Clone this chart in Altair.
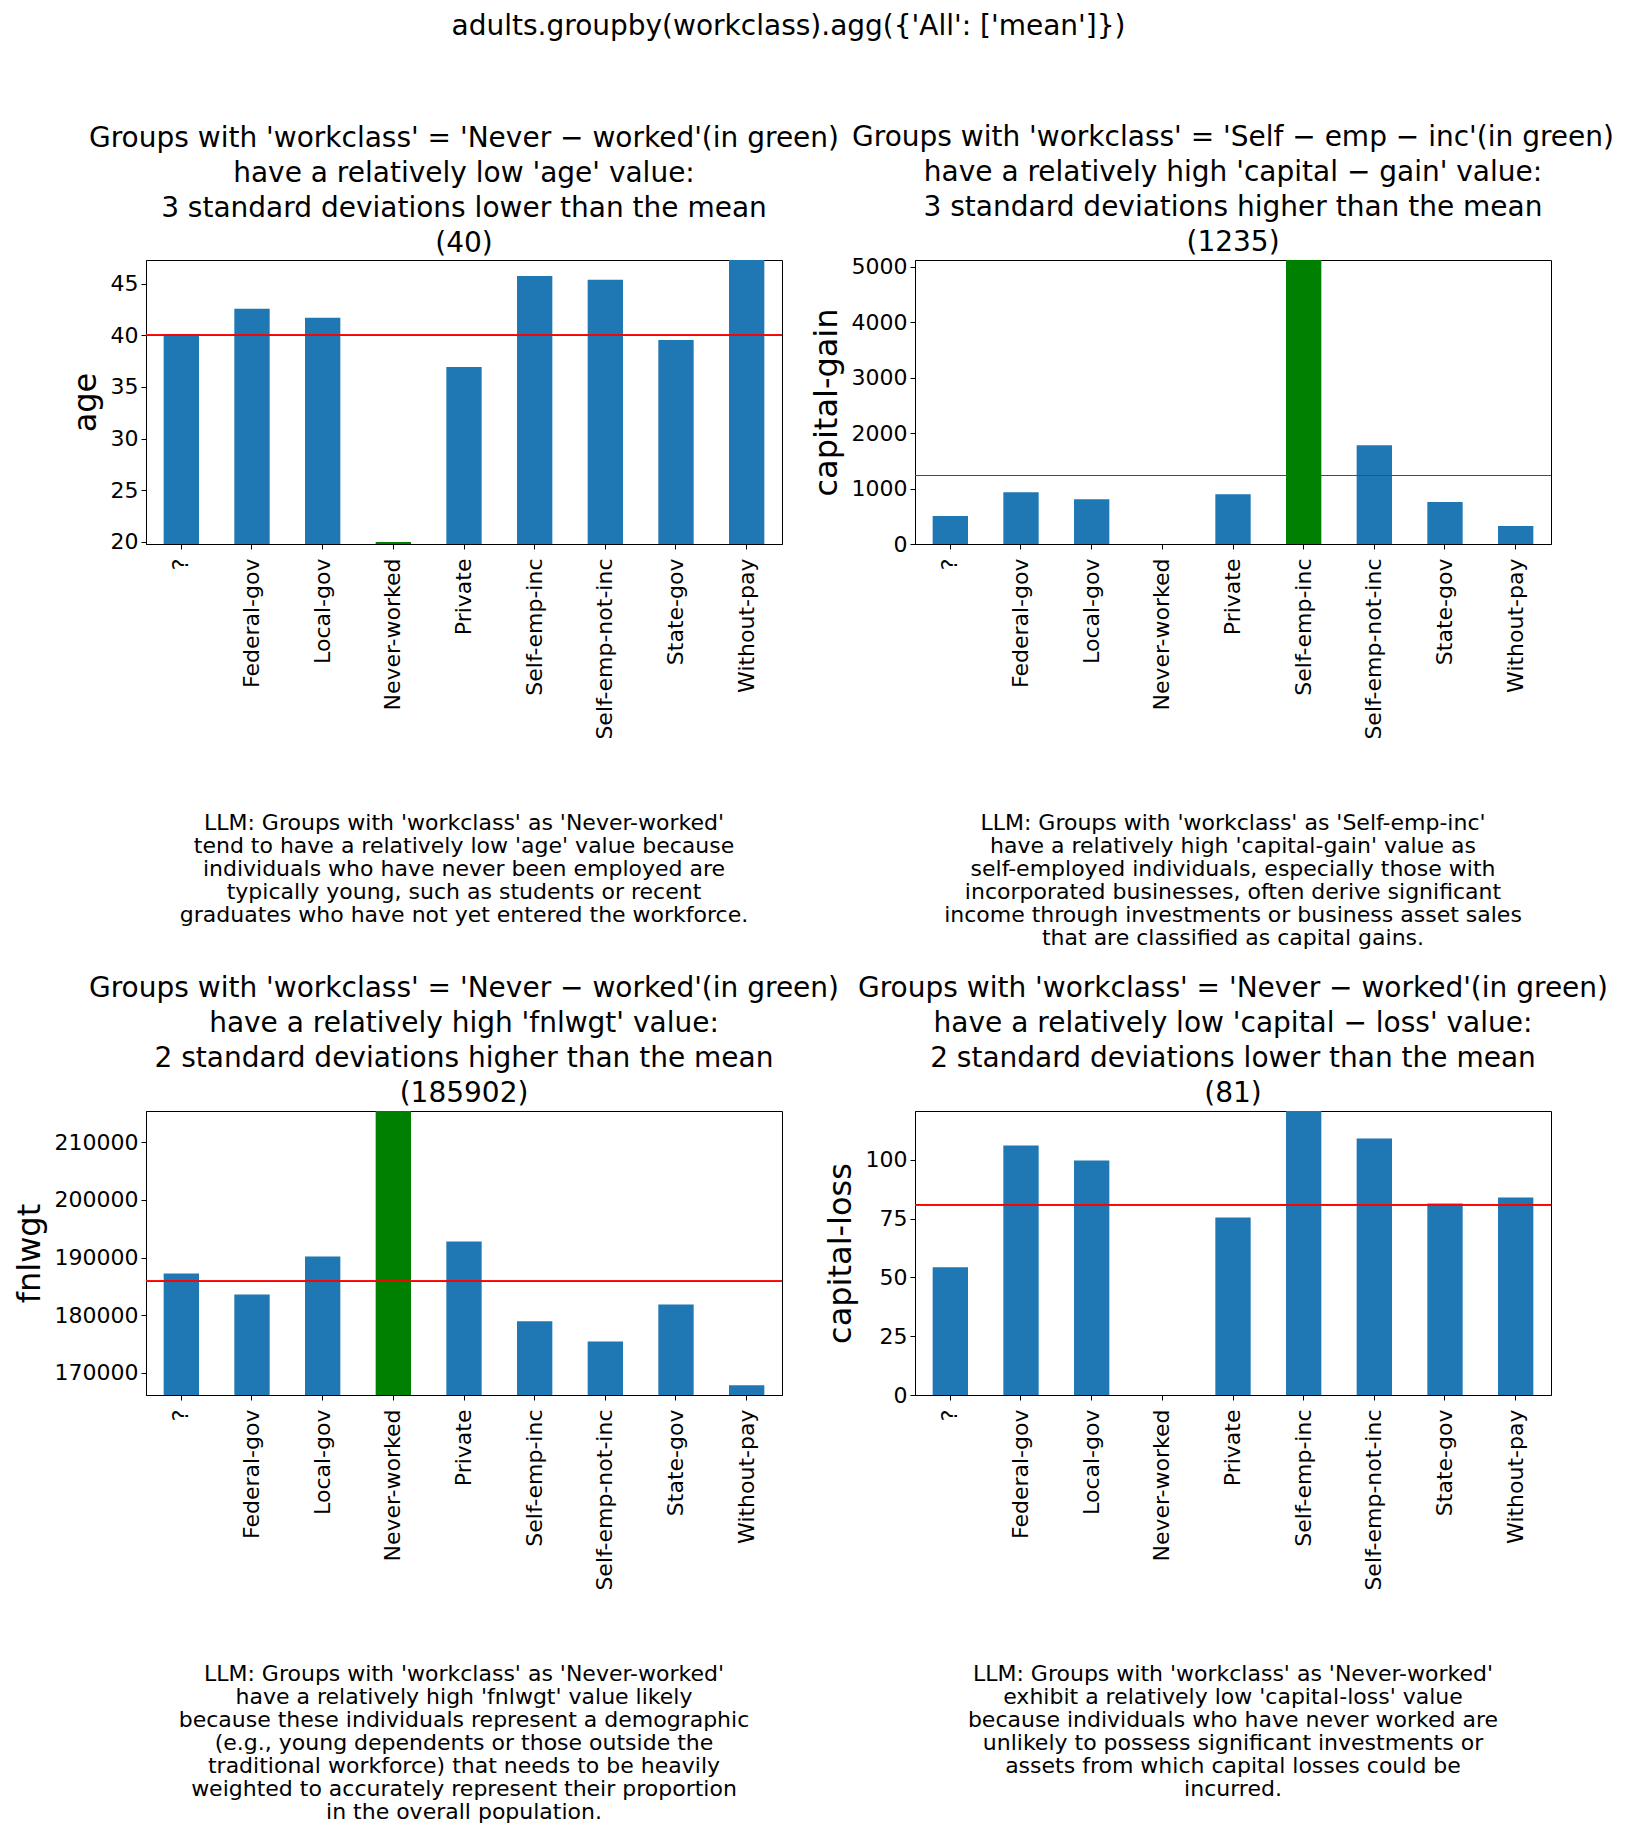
import altair as alt
import pandas as pd

workclass = ["?", "Federal-gov", "Local-gov", "Never-worked", "Private",
             "Self-emp-inc", "Self-emp-not-inc", "State-gov", "Without-pay"]

age = [40.13, 42.58, 41.70, 20.0, 36.94, 45.75, 45.37, 39.55, 47.29]
capital_gain = [504, 935, 809, 0, 899, 5120, 1781, 755, 324]
fnlwgt = [187260, 183620, 190200, 215430, 192800, 178950, 175480, 181890, 167860]
capital_loss = [54.3, 106.1, 99.7, 0.0, 75.5, 120.8, 109.1, 81.5, 84.0]

mean_age = 40
mean_gain = 1235
mean_fnlwgt = 185902
mean_loss = 81

age_ticks = [20, 25, 30, 35, 40, 45]
gain_ticks = [0, 1000, 2000, 3000, 4000, 5000]
fnlwgt_ticks = [170000, 180000, 190000, 200000, 210000]
loss_ticks = [0, 25, 50, 75, 100]

main_title = "adults.groupby(workclass).agg({'All': ['mean']})"

titles = [
    ["Groups with 'workclass' = 'Never − worked'(in green)",
     "have a relatively low 'age' value:",
     "3 standard deviations lower than the mean", "(40)"],
    ["Groups with 'workclass' = 'Self − emp − inc'(in green)",
     "have a relatively high 'capital − gain' value:",
     "3 standard deviations higher than the mean", "(1235)"],
    ["Groups with 'workclass' = 'Never − worked'(in green)",
     "have a relatively high 'fnlwgt' value:",
     "2 standard deviations higher than the mean", "(185902)"],
    ["Groups with 'workclass' = 'Never − worked'(in green)",
     "have a relatively low 'capital − loss' value:",
     "2 standard deviations lower than the mean", "(81)"],
]

llm_texts = [
    "LLM: Groups with 'workclass' as 'Never-worked'\ntend to have a relatively low 'age' value because\nindividuals who have never been employed are\ntypically young, such as students or recent\ngraduates who have not yet entered the workforce.",
    "LLM: Groups with 'workclass' as 'Self-emp-inc'\nhave a relatively high 'capital-gain' value as\nself-employed individuals, especially those with\nincorporated businesses, often derive significant\nincome through investments or business asset sales\nthat are classified as capital gains.",
    "LLM: Groups with 'workclass' as 'Never-worked'\nhave a relatively high 'fnlwgt' value likely\nbecause these individuals represent a demographic\n(e.g., young dependents or those outside the\ntraditional workforce) that needs to be heavily\nweighted to accurately represent their proportion\nin the overall population.",
    "LLM: Groups with 'workclass' as 'Never-worked'\nexhibit a relatively low 'capital-loss' value\nbecause individuals who have never worked are\nunlikely to possess significant investments or\nassets from which capital losses could be\nincurred.",
]

W = 636
H = 284
FONT = "DejaVu Sans"


def panel(values, label, highlight, mean, ticks, title_lines, llm, title_offset):
    df = pd.DataFrame({"workclass": workclass, "value": values})
    lo = min(values) * 0.99
    hi = max(values)
    yscale = alt.Scale(domain=[lo, hi], nice=False, zero=False)
    bars = alt.Chart(df).mark_bar(clip=True).encode(
        x=alt.X("workclass:N", sort=workclass,
                scale=alt.Scale(paddingInner=0.5, paddingOuter=0.25),
                axis=alt.Axis(title=None, labelAngle=270, labelLimit=400,
                              labelPadding=9)),
        y=alt.Y("value:Q", scale=yscale,
                axis=alt.Axis(values=ticks, title=label, format="d")),
        color=alt.condition(alt.datum.workclass == highlight,
                            alt.value("green"), alt.value("#1f77b4")),
    )
    rule = alt.Chart(df).mark_rule(color="red", strokeWidth=1.2).encode(
        y=alt.Y(datum=mean, scale=yscale)
    )
    tdf = pd.DataFrame({"t": [llm]})
    txt = alt.Chart(tdf).mark_text(
        lineBreak="\n", fontSize=22, lineHeight=23, font=FONT,
        baseline="top", align="center", color="black"
    ).encode(x=alt.value(W / 2), y=alt.value(553), text="t:N")
    return alt.layer(bars, rule, txt).properties(
        width=W, height=H,
        title=alt.TitleParams(text=title_lines, fontSize=28, lineHeight=35,
                              font=FONT, fontWeight="normal", anchor="middle",
                              frame="group", offset=title_offset, color="black"),
    )


p1 = panel(age, "age", "Never-worked", mean_age, age_ticks, titles[0], llm_texts[0], 2.5)
p2 = panel(capital_gain, "capital-gain", "Self-emp-inc", mean_gain, gain_ticks, titles[1], llm_texts[1], -1)
p3 = panel(fnlwgt, "fnlwgt", "Never-worked", mean_fnlwgt, fnlwgt_ticks, titles[2], llm_texts[2], 3)
p4 = panel(capital_loss, "capital-loss", "Never-worked", mean_loss, loss_ticks, titles[3], llm_texts[3], 3)

chart = alt.concat(
    p1, p2, p3, p4, columns=2,
    spacing=alt.RowColnumber(row=567, column=133), bounds="flush",
).properties(
    title=alt.TitleParams(text=main_title, fontSize=28, font=FONT,
                          fontWeight="normal", anchor="middle", offset=82,
                          dx=-25, color="black"),
    padding={"top": 5, "left": 4, "right": 0, "bottom": 0},
).configure_axis(
    labelFont=FONT, labelFontSize=22, labelColor="black",
    titleFont=FONT, titleFontSize=32, titleFontWeight="normal",
    titleColor="black", domainColor="black", tickColor="black",
    tickSize=5, grid=False, labelPadding=3, titlePadding=8,
).configure_view(stroke="black", strokeWidth=1)

chart.save("out.html", embed_options={"renderer": "svg", "actions": False})
